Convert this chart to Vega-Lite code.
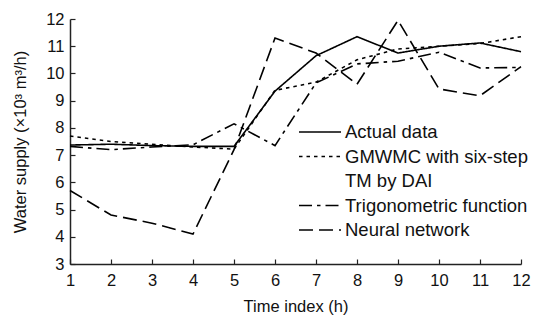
{
  "$schema": "https://vega.github.io/schema/vega-lite/v6.json",
  "width": 451,
  "height": 245,
  "autosize": {"type": "none"},
  "padding": {"left": 70, "top": 19, "right": 12, "bottom": 56},
  "background": "white",
  "config": {
    "view": {"stroke": null},
    "font": "Liberation Sans",
    "axis": {
      "grid": false,
      "domainColor": "#222",
      "tickColor": "#222",
      "domainWidth": 1.5,
      "tickWidth": 1.2,
      "tickSize": -5,
      "labelFont": "Liberation Sans",
      "labelFontSize": 16.5,
      "labelColor": "#111",
      "titleFont": "Liberation Sans",
      "titleFontSize": 16.5,
      "titleFontWeight": "normal",
      "titleColor": "#111"
    }
  },
  "data": {
    "values": [
      {"series": "Actual data", "t": 1, "v": 7.37},
      {"series": "Actual data", "t": 2, "v": 7.4},
      {"series": "Actual data", "t": 3, "v": 7.35},
      {"series": "Actual data", "t": 4, "v": 7.32},
      {"series": "Actual data", "t": 5, "v": 7.32},
      {"series": "Actual data", "t": 6, "v": 9.35},
      {"series": "Actual data", "t": 7, "v": 10.65},
      {"series": "Actual data", "t": 8, "v": 11.35},
      {"series": "Actual data", "t": 9, "v": 10.75},
      {"series": "Actual data", "t": 10, "v": 11.0},
      {"series": "Actual data", "t": 11, "v": 11.12},
      {"series": "Actual data", "t": 12, "v": 10.8},
      {"series": "GMWMC with six-step", "t": 1, "v": 7.7},
      {"series": "GMWMC with six-step", "t": 2, "v": 7.5},
      {"series": "GMWMC with six-step", "t": 3, "v": 7.4},
      {"series": "GMWMC with six-step", "t": 4, "v": 7.3},
      {"series": "GMWMC with six-step", "t": 5, "v": 7.22},
      {"series": "GMWMC with six-step", "t": 6, "v": 9.38},
      {"series": "GMWMC with six-step", "t": 7, "v": 9.68},
      {"series": "GMWMC with six-step", "t": 8, "v": 10.5},
      {"series": "GMWMC with six-step", "t": 9, "v": 10.9},
      {"series": "GMWMC with six-step", "t": 10, "v": 11.0},
      {"series": "GMWMC with six-step", "t": 11, "v": 11.1},
      {"series": "GMWMC with six-step", "t": 12, "v": 11.35},
      {"series": "Trigonometric function", "t": 1, "v": 7.32},
      {"series": "Trigonometric function", "t": 2, "v": 7.2},
      {"series": "Trigonometric function", "t": 3, "v": 7.3},
      {"series": "Trigonometric function", "t": 4, "v": 7.38},
      {"series": "Trigonometric function", "t": 5, "v": 8.15},
      {"series": "Trigonometric function", "t": 6, "v": 7.35},
      {"series": "Trigonometric function", "t": 7, "v": 9.65},
      {"series": "Trigonometric function", "t": 8, "v": 10.35},
      {"series": "Trigonometric function", "t": 9, "v": 10.45},
      {"series": "Trigonometric function", "t": 10, "v": 10.78},
      {"series": "Trigonometric function", "t": 11, "v": 10.2},
      {"series": "Trigonometric function", "t": 12, "v": 10.22},
      {"series": "Neural network", "t": 1, "v": 5.7},
      {"series": "Neural network", "t": 2, "v": 4.8},
      {"series": "Neural network", "t": 3, "v": 4.5},
      {"series": "Neural network", "t": 4, "v": 4.1},
      {"series": "Neural network", "t": 5, "v": 7.2},
      {"series": "Neural network", "t": 6, "v": 11.3},
      {"series": "Neural network", "t": 7, "v": 10.75},
      {"series": "Neural network", "t": 8, "v": 9.6},
      {"series": "Neural network", "t": 9, "v": 11.95},
      {"series": "Neural network", "t": 10, "v": 9.43},
      {"series": "Neural network", "t": 11, "v": 9.18},
      {"series": "Neural network", "t": 12, "v": 10.25}
    ]
  },
  "mark": {"type": "line", "color": "black", "strokeWidth": 1.6, "clip": false},
  "encoding": {
    "x": {
      "field": "t",
      "type": "quantitative",
      "scale": {"domain": [1, 12], "nice": false, "zero": false},
      "axis": {
        "values": [1, 2, 3, 4, 5, 6, 7, 8, 9, 10, 11, 12],
        "title": "Time index (h)",
        "labelPadding": 13,
        "titleBaseline": "middle",
        "titleY": 42,
        "labelFlush": false
      }
    },
    "y": {
      "field": "v",
      "type": "quantitative",
      "scale": {"domain": [3, 12], "nice": false, "zero": false},
      "axis": {
        "values": [3, 4, 5, 6, 7, 8, 9, 10, 11, 12],
        "title": "Water supply (×10³ m³/h)",
        "labelPadding": 11,
        "titleBaseline": "middle",
        "titleX": -50,
        "titleY": 122.5,
        "labelFlush": false
      }
    },
    "strokeDash": {
      "field": "series",
      "type": "nominal",
      "scale": {
        "domain": ["Actual data", "GMWMC with six-step", "TM by DAI", "Trigonometric function", "Neural network"],
        "range": [[1, 0], [3.5, 4], [1, 0], [13, 5, 3.5, 5], [14, 6]]
      },
      "legend": {
        "title": null,
        "orient": "none",
        "legendX": 240.5,
        "legendY": 103.5,
        "symbolType": "M -2.47 0 L 2.47 0",
        "symbolSize": 289,
        "symbolStrokeWidth": 1.6,
        "symbolStrokeColor": "black",
        "symbolFillColor": "transparent",
        "labelFont": "Liberation Sans",
        "labelFontSize": 18.5,
        "labelColor": "#111",
        "labelOffset": 15.5,
        "rowPadding": 5.5,
        "labelLimit": 300,
        "encode": {
          "symbols": {
            "update": {
              "strokeOpacity": {"signal": "datum.value === 'TM by DAI' ? 0 : 1"}
            }
          }
        }
      }
    }
  }
}
